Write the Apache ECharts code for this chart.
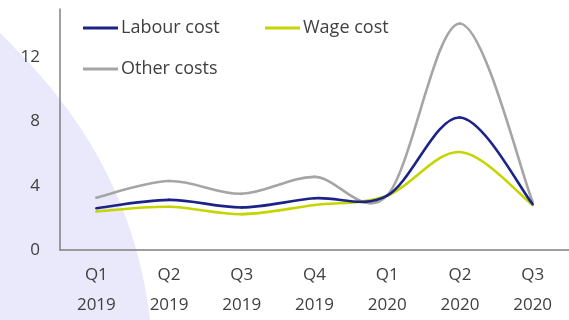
<!DOCTYPE html>
<html><head><meta charset="utf-8">
<script src="https://cdn.jsdelivr.net/npm/echarts@6/dist/echarts.min.js"></script>
<style>html,body{margin:0;padding:0;background:#fff}#c{width:569px;height:320px}</style>
</head><body><div id="c"></div>
<script>
const categories = ['Q1\n2019','Q2\n2019','Q3\n2019','Q4\n2019','Q1\n2020','Q2\n2020','Q3\n2020'];
const labourCost = [2.6, 3.12, 2.65, 3.22, 3.38, 8.25, 2.85];
const wageCost   = [2.4, 2.69, 2.23, 2.8, 3.38, 6.1, 2.8];
const otherCosts = [3.26, 4.29, 3.5, 4.55, 3.4, 14.1, 3.0];
const yTicks = [0, 4, 8, 12];

const txt = '#404040';
const font = 'Open Sans';
// decorative background shape (cubic bezier outline)
function bgShape() {
  const p0=[0,33], p1=[45,78], p2=[132,165], p3=[150,320];
  const pts=[];
  for (let i=0;i<=40;i++){ const t=i/40, u=1-t;
    pts.push([u*u*u*p0[0]+3*u*u*t*p1[0]+3*u*t*t*p2[0]+t*t*t*p3[0],
              u*u*u*p0[1]+3*u*u*t*p1[1]+3*u*t*t*p2[1]+t*t*t*p3[1]]); }
  pts.push([0,320]);
  return pts;
}
// Catmull-Rom style smoothed line drawn as a custom series through the axes
function smoothSeries(name, values, color, z) {
  return {
    name, type: 'custom', z,
    data: values.map((v, i) => [i, v]),
    encode: {x: 0, y: 1},
    itemStyle: {color},
    renderItem: function (params, api) {
      const i = params.dataIndex;
      const n = values.length;
      if (i >= n - 1) return {type: 'group', children: []};
      const P = k => api.coord([Math.max(0, Math.min(n - 1, k)), values[Math.max(0, Math.min(n - 1, k))]]);
      const p0 = P(i - 1), p1 = P(i), p2 = P(i + 1), p3 = P(i + 2);
      return {
        type: 'bezierCurve',
        shape: {
          x1: p1[0], y1: p1[1], x2: p2[0], y2: p2[1],
          cpx1: p1[0] + (p2[0] - p0[0]) / 6, cpy1: p1[1] + (p2[1] - p0[1]) / 6,
          cpx2: p2[0] - (p3[0] - p1[0]) / 6, cpy2: p2[1] - (p3[1] - p1[1]) / 6
        },
        style: {stroke: color, lineWidth: 2.6, fill: null, lineCap: 'round'},
        silent: true
      };
    }
  };
}
const chart = echarts.init(document.getElementById('c'));
const legendCommon = {
  itemWidth: 35, itemHeight: 3, icon: 'rect',
  textStyle: {color: txt, fontSize: 18, fontFamily: font, padding: [0,0,0,-2]},
  padding: 0, selectedMode: false
};
chart.setOption({
  animation: false,
  graphic: [{
    type: 'polygon', z: -100, silent: true,
    shape: {points: bgShape()},
    style: {fill: '#eae8fb'}
  }],
  legend: [
    Object.assign({left: 83, top: 19, data: ['Labour cost']}, legendCommon),
    Object.assign({left: 265, top: 19, data: ['Wage cost']}, legendCommon),
    Object.assign({left: 83, top: 60, data: ['Other costs']}, legendCommon)
  ],
  grid: {left: 60, top: 9, width: 514, height: 244, containLabel: false},
  xAxis: {
    type: 'category', data: categories, boundaryGap: true,
    axisLine: {lineStyle: {color: '#808080', width: 1.5}},
    axisTick: {show: false},
    axisLabel: {color: txt, fontSize: 17, fontFamily: font, lineHeight: 30, margin: 10, interval: 0}
  },
  yAxis: {
    type: 'value', min: 0, max: 15, interval: 4,
    splitLine: {show: false},
    axisLine: {show: true, lineStyle: {color: '#808080', width: 1.5}},
    axisTick: {show: false},
    axisLabel: {color: txt, fontSize: 17, fontFamily: font, margin: 20, showMaxLabel: false,
      formatter: v => yTicks.includes(v) ? String(v) : ''}
  },
  series: [
    smoothSeries('Labour cost', labourCost, '#1c2388', 3),
    smoothSeries('Wage cost', wageCost, '#c5d500', 2),
    smoothSeries('Other costs', otherCosts, '#a5a5a5', 1)
  ]
});
</script></body></html>
